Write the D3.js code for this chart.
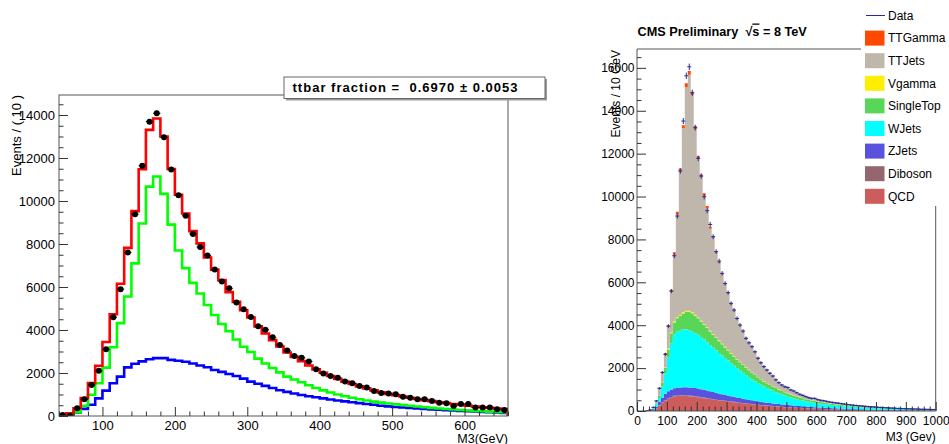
<!DOCTYPE html>
<html>
<head>
<meta charset="utf-8">
<script src="https://cdn.jsdelivr.net/npm/d3@7"></script>
<style>
  body { margin: 0; background: #fff; }
  svg { display: block; font-family: "Liberation Sans", Arial, Helvetica, sans-serif; }
</style>
</head>
<body>
<svg id="chart" width="949" height="444"></svg>
<script>
// ---------- left: ttbar template fit, M3 in 10 GeV bins (low edges) ----------
const fitBinLow = [40, 50, 60, 70, 80, 90, 100, 110, 120, 130, 140, 150, 160, 170, 180, 190, 200, 210, 220, 230,
  240, 250, 260, 270, 280, 290, 300, 310, 320, 330, 340, 350, 360, 370, 380, 390, 400, 410, 420, 430,
  440, 450, 460, 470, 480, 490, 500, 510, 520, 530, 540, 550, 560, 570, 580, 590, 600, 610, 620, 630, 640, 650];
const fitData = [50, 10, 360, 780, 1440, 2100, 3100, 4590, 5900, 7610,
  9380, 11640, 13690, 14080, 12960, 11460, 10270, 9310, 8470, 7860,
  7470, 6810, 6260, 5940, 5280, 4960, 4600, 4170, 4010, 3660,
  3300, 3050, 2790, 2710, 2540, 2180, 1980, 1860, 1780, 1600,
  1520, 1400, 1320, 1160, 1070, 1050, 1010, 900, 850, 775,
  775, 700, 620, 590, 465, 560, 560, 390, 390, 390, 310, 280];
const fitTotal = [50, 120, 360, 830, 1530, 2340, 3440, 4730, 6150, 7820,
  9530, 11480, 13310, 13840, 13000, 11490, 10290, 9420, 8600, 8030,
  7370, 6810, 6320, 5760, 5310, 4920, 4580, 4170, 3840, 3530,
  3230, 2950, 2750, 2550, 2350, 2170, 2010, 1860, 1720, 1600,
  1490, 1380, 1280, 1190, 1100, 1030, 970, 910, 850, 790,
  740, 690, 640, 600, 560, 520, 480, 440, 410, 380, 350, 320];
const fitTtbar = [20, 50, 180, 480, 990, 1520, 2250, 3200, 4320, 5560,
  7100, 8950, 10670, 11140, 10330, 8900, 7700, 6880, 6190, 5700,
  5160, 4700, 4280, 3940, 3560, 3220, 2980, 2670, 2440, 2230,
  2030, 1830, 1700, 1570, 1430, 1300, 1190, 1090, 1000, 920,
  850, 780, 720, 670, 620, 580, 550, 515, 480, 440,
  410, 380, 350, 325, 300, 280, 255, 230, 220, 205, 190, 175];
const fitBkg = [20, 60, 170, 330, 520, 820, 1180, 1520, 1830, 2260,
  2430, 2540, 2640, 2690, 2690, 2610, 2570, 2520, 2440, 2350,
  2270, 2140, 2050, 1950, 1860, 1740, 1600, 1500, 1400, 1300,
  1200, 1120, 1050, 980, 920, 870, 820, 770, 720, 680,
  640, 600, 560, 520, 480, 450, 420, 395, 370, 350,
  330, 310, 290, 275, 260, 240, 225, 210, 190, 175, 160, 145];
const fitXTicks = [100, 200, 300, 400, 500, 600];
const fitYTicks = [0, 2000, 4000, 6000, 8000, 10000, 12000, 14000];
const fitLabel = 'ttbar fraction =  0.6970 \u00b1 0.0053';

// ---------- right: stacked MC vs data, M3 in 10 GeV bins (low edges) ----------
const stackBinLow = [0, 10, 20, 30, 40, 50, 60, 70, 80, 90, 100, 110, 120, 130, 140, 150, 160, 170, 180, 190,
  200, 210, 220, 230, 240, 250, 260, 270, 280, 290, 300, 310, 320, 330, 340, 350, 360, 370, 380, 390,
  400, 410, 420, 430, 440, 450, 460, 470, 480, 490, 500, 510, 520, 530, 540, 550, 560, 570, 580, 590,
  600, 610, 620, 630, 640, 650, 660, 670, 680, 690, 700, 710, 720, 730, 740, 750, 760, 770, 780, 790,
  800, 810, 820, 830, 840, 850, 860, 870, 880, 890, 900, 910, 920, 930, 940, 950, 960, 970, 980, 990];
const qcd = [0, 0, 0, 0, 10, 40, 120, 260, 380, 480,
  560, 620, 680, 700, 710, 710, 700, 690, 680, 660,
  640, 620, 600, 580, 555, 530, 510, 495, 480, 465,
  450, 430, 410, 390, 375, 360, 345, 330, 315, 295,
  280, 268, 256, 244, 232, 220, 210, 200, 190, 180,
  170, 162, 154, 146, 139, 132, 125, 118, 112, 106,
  100, 95, 90, 85, 80, 76, 72, 68, 64, 60,
  57, 54, 51, 48, 45, 42, 40, 38, 36, 34,
  32, 30, 28, 26, 25, 24, 23, 22, 21, 20,
  19, 18, 17, 16, 15, 15, 14, 14, 13, 13];
const diboson = [0, 0, 0, 0, 0, 3, 8, 15, 20, 25,
  28, 30, 30, 30, 30, 30, 30, 29, 28, 27,
  26, 25, 24, 23, 22, 21, 20, 19, 18, 18,
  17, 16, 16, 15, 15, 14, 14, 13, 13, 12,
  12, 11, 11, 10, 10, 10, 9, 9, 9, 8,
  8, 8, 7, 7, 7, 7, 6, 6, 6, 6,
  5, 5, 5, 5, 5, 5, 5, 4, 4, 4,
  4, 4, 4, 4, 4, 3, 3, 3, 3, 3,
  3, 3, 3, 3, 3, 3, 2, 2, 2, 2,
  2, 2, 2, 2, 2, 2, 2, 2, 2, 2];
const zjets = [0, 0, 0, 5, 15, 37, 72, 155, 220, 295,
  332, 350, 350, 360, 360, 370, 380, 381, 382, 383,
  384, 375, 366, 352, 343, 334, 320, 301, 287, 267,
  253, 244, 234, 225, 211, 201, 191, 182, 173, 168,
  158, 151, 143, 136, 130, 125, 119, 113, 107, 103,
  98, 94, 90, 86, 82, 78, 75, 72, 69, 66,
  63, 60, 57, 54, 52, 50, 48, 46, 44, 42,
  40, 38, 36, 35, 33, 32, 30, 29, 28, 27,
  26, 25, 24, 23, 22, 21, 20, 19, 18, 17,
  16, 16, 15, 15, 14, 14, 13, 13, 12, 12];
const wjets = [0, 0, 0, 3, 15, 50, 130, 180, 520, 960,
  1590, 2150, 2520, 2610, 2640, 2700, 2690, 2660, 2610, 2550,
  2510, 2430, 2340, 2255, 2160, 2065, 1980, 1895, 1805, 1720,
  1630, 1540, 1450, 1370, 1290, 1205, 1130, 1055, 980, 915,
  850, 790, 730, 680, 628, 585, 542, 498, 464, 428,
  392, 364, 336, 312, 287, 268, 246, 230, 214, 202,
  188, 178, 168, 160, 152, 144, 137, 130, 123, 117,
  111, 106, 101, 96, 91, 87, 83, 79, 75, 71,
  68, 65, 62, 59, 56, 54, 51, 49, 47, 45,
  43, 41, 39, 37, 36, 34, 33, 31, 30, 29];
const singletop = [0, 0, 0, 0, 2, 10, 30, 90, 160, 240,
  360, 470, 550, 620, 690, 740, 820, 870, 860, 820,
  760, 720, 690, 660, 630, 600, 570, 545, 520, 495,
  470, 445, 420, 400, 380, 360, 340, 320, 300, 285,
  270, 255, 240, 225, 212, 200, 188, 176, 165, 155,
  145, 137, 129, 121, 114, 107, 101, 95, 90, 85,
  80, 76, 72, 68, 64, 61, 58, 55, 52, 49,
  46, 44, 42, 40, 38, 36, 34, 32, 30, 29,
  27, 26, 25, 23, 22, 21, 20, 19, 18, 17,
  16, 15, 15, 14, 13, 13, 12, 12, 11, 11];
const vgamma = [0, 0, 0, 0, 1, 2, 5, 10, 20, 30,
  40, 45, 50, 50, 50, 50, 50, 50, 48, 46,
  44, 42, 40, 38, 36, 35, 33, 32, 30, 29,
  28, 27, 26, 25, 24, 23, 22, 21, 20, 19,
  18, 17, 16, 16, 15, 14, 14, 13, 13, 12,
  12, 11, 11, 10, 10, 10, 9, 9, 9, 8,
  8, 8, 7, 7, 7, 7, 6, 6, 6, 6,
  5, 5, 5, 5, 5, 5, 4, 4, 4, 4,
  4, 4, 4, 4, 3, 3, 3, 3, 3, 3,
  3, 3, 3, 2, 2, 2, 2, 2, 2, 2];
const ttjets = [0, 0, 0, 2, 7, 35, 105, 345, 465, 620,
  1020, 1895, 3120, 4810, 6700, 8580, 10430, 11000, 10130, 8660,
  7400, 6700, 5980, 5550, 4750, 4500, 3960, 3610, 3220, 2910,
  2630, 2280, 2120, 1860, 1690, 1540, 1350, 1250, 1190, 1070,
  900, 770, 690, 620, 550, 500, 410, 340, 290, 270,
  250, 230, 210, 185, 160, 140, 125, 115, 108, 102,
  97, 89, 87, 78, 77, 74, 71, 68, 64, 61,
  60, 55, 52, 50, 47, 45, 44, 41, 39, 37,
  36, 34, 32, 31, 30, 28, 27, 25, 24, 23,
  22, 21, 20, 19, 18, 17, 16, 15, 15, 14];
const ttgamma = [0, 0, 0, 0, 0, 3, 10, 25, 35, 50,
  70, 90, 100, 110, 130, 150, 180, 170, 150, 140,
  130, 120, 110, 100, 90, 80, 70, 62, 56, 50,
  45, 40, 36, 32, 28, 25, 22, 20, 18, 16,
  15, 14, 13, 12, 11, 10, 9, 9, 8, 8,
  7, 7, 6, 6, 6, 5, 5, 5, 4, 4,
  4, 4, 4, 3, 3, 3, 3, 3, 3, 3,
  2, 2, 2, 2, 2, 2, 2, 2, 2, 2,
  1, 1, 1, 1, 1, 1, 1, 1, 1, 1,
  1, 1, 1, 1, 1, 1, 1, 1, 1, 1];
const stackData = [0, 0, 0, 10, 50, 170, 470, 1060, 1800, 2640,
  3960, 5590, 7240, 9090, 11190, 13520, 15630, 16050, 14840, 13210,
  11780, 10960, 9990, 9340, 8700, 8130, 7430, 6990, 6420, 5950,
  5520, 5020, 4710, 4320, 4010, 3730, 3390, 3180, 3000, 2760,
  2460, 2250, 2070, 1910, 1760, 1630, 1450, 1320, 1210, 1130,
  1090, 980, 930, 850, 780, 730, 670, 620, 590, 590,
  530, 500, 480, 450, 420, 400, 380, 360, 340, 320,
  300, 285, 270, 255, 240, 230, 215, 205, 195, 185,
  175, 165, 160, 150, 140, 135, 125, 120, 115, 110,
  105, 100, 95, 90, 85, 80, 78, 75, 70, 68];
const stackKeys = ['QCD', 'Diboson', 'ZJets', 'WJets', 'SingleTop', 'Vgamma', 'TTJets', 'TTGamma'];
const stackSeries = [qcd, diboson, zjets, wjets, singletop, vgamma, ttjets, ttgamma];
const legendLabels = ['Data', 'TTGamma', 'TTJets', 'Vgamma', 'SingleTop', 'WJets', 'ZJets', 'Diboson', 'QCD'];
const stackXTicks = [0, 100, 200, 300, 400, 500, 600, 700, 800, 900, 1000];
const stackYTicks = [0, 2000, 4000, 6000, 8000, 10000, 12000, 14000, 16000];

const colors = {
  QCD: '#cd5c5c', Diboson: '#946670', ZJets: '#5a52dc', WJets: '#00ffff',
  SingleTop: '#58d658', Vgamma: '#ffee00', TTJets: '#bfb7ac', TTGamma: '#ff4800',
  Data: '#2a2a98'
};
const axisColor = '#333';

const svg = d3.select('#chart');
const defs = svg.append('defs');

function styleText(sel, size) {
  sel.selectAll('text').attr('font-size', size)
    .attr('font-family', '"Liberation Sans", Arial, Helvetica, sans-serif').attr('fill', '#000');
}

// ROOT-like axes: inward ticks, long majors and short minors
function drawAxes(g, x, y, o) {
  const bx = g.append('g').attr('transform', `translate(0,${o.bottom})`).style('color', axisColor);
  bx.append('g').call(d3.axisBottom(x).tickValues(o.xMinor).tickSize(-4.5).tickFormat(''));
  bx.append('g').call(d3.axisBottom(x).tickValues(o.xMajor).tickSize(-9).tickPadding(o.xPad).tickFormat(d3.format('d')));
  const ly = g.append('g').attr('transform', `translate(${o.left},0)`).style('color', axisColor);
  ly.append('g').call(d3.axisLeft(y).tickValues(o.yMinor).tickSize(-4.5).tickFormat(''));
  ly.append('g').call(d3.axisLeft(y).tickValues(o.yMajor).tickSize(-9).tickPadding(o.yPad).tickFormat(d3.format('d')));
  g.selectAll('.domain').remove();
  styleText(g, o.font);
}

// ================= left panel =================
const L = { left: 59, right: 508, top: 95, bottom: 416 };
const xL = d3.scaleLinear().domain([40, 660]).range([L.left, L.right]);
const yL = d3.scaleLinear().domain([0, 14930]).range([L.bottom, L.top]);
const binW = 10;

defs.append('clipPath').attr('id', 'clipL').append('rect')
  .attr('x', L.left).attr('y', L.top).attr('width', L.right - L.left).attr('height', L.bottom - L.top);

const left = svg.append('g');
const plotL = left.append('g').attr('clip-path', 'url(#clipL)');

function stepPts(lows, vals, hi) {
  const pts = [[lows[0], 0]];
  lows.forEach((e, i) => pts.push([e, vals[i]]));
  pts.push([hi, vals[vals.length - 1]], [hi, 0]);
  return pts;
}
const stepL = d3.line().x(d => xL(d[0])).y(d => yL(d[1])).curve(d3.curveStepAfter);
[[fitBkg, '#0000ff'], [fitTtbar, '#00ff00'], [fitTotal, '#ff0000']].forEach(([vals, c]) => {
  plotL.append('path')
    .attr('d', stepL(stepPts(fitBinLow, vals, 660)))
    .attr('fill', 'none').attr('stroke', c).attr('stroke-width', 2.6).attr('stroke-linejoin', 'miter');
});

const pts = plotL.append('g').selectAll('g').data(fitData).join('g')
  .attr('transform', (d, i) => `translate(${xL(fitBinLow[i] + binW / 2)},${yL(d)})`);
pts.append('line').attr('x1', (d, i) => xL(fitBinLow[i]) - xL(fitBinLow[i] + binW / 2))
  .attr('x2', (d, i) => xL(fitBinLow[i] + binW) - xL(fitBinLow[i] + binW / 2))
  .attr('stroke', '#000').attr('stroke-width', 1);
pts.append('line').attr('y1', d => yL(d + Math.sqrt(d)) - yL(d)).attr('y2', d => yL(Math.max(0, d - Math.sqrt(d))) - yL(d))
  .attr('stroke', '#000').attr('stroke-width', 1);
pts.append('circle').attr('r', 3).attr('fill', '#000');

left.append('rect').attr('x', L.left).attr('y', L.top)
  .attr('width', L.right - L.left).attr('height', L.bottom - L.top)
  .attr('fill', 'none').attr('stroke', '#555').attr('stroke-width', 1);

drawAxes(left.append('g'), xL, yL, {
  bottom: L.bottom, left: L.left, font: 13, xPad: 5, yPad: 4,
  xMajor: fitXTicks, xMinor: d3.range(40, 661, 20).filter(v => v % 100),
  yMajor: fitYTicks, yMinor: d3.range(0, 14501, 500).filter(v => v % 2000)
});

left.append('text').attr('transform', `translate(20.5,${L.top}) rotate(-90)`)
  .attr('text-anchor', 'end').attr('font-size', 13).text('Events / ( 10 )');
left.append('text').attr('x', L.right).attr('y', 442.5).attr('text-anchor', 'end')
  .attr('font-size', 12.5).text('M3(GeV)');

// parameter box
const box = left.append('g');
box.append('rect').attr('x', 286).attr('y', 79).attr('width', 261).attr('height', 21.5).attr('fill', '#999');
box.append('rect').attr('x', 284).attr('y', 77).attr('width', 261).attr('height', 21.5)
  .attr('fill', '#fff').attr('stroke', '#666').attr('stroke-width', 1);
box.append('text').attr('x', 292.5).attr('y', 91.5).attr('font-size', 13).attr('font-weight', 'bold')
  .attr('textLength', 225).attr('lengthAdjust', 'spacing').style('white-space', 'pre')
  .text(fitLabel);

// ================= right panel =================
const R = { left: 637, right: 935.7, top: 49, bottom: 411 };
const xR = d3.scaleLinear().domain([0, 1000]).range([R.left, R.right]);
const yR = d3.scaleLinear().domain([0, 16880]).range([R.bottom, R.top]);

defs.append('clipPath').attr('id', 'clipR').append('rect')
  .attr('x', R.left).attr('y', R.top).attr('width', R.right - R.left).attr('height', R.bottom - R.top);

const right = svg.append('g');
const plotR = right.append('g').attr('clip-path', 'url(#clipR)');

const rows = stackBinLow.map((e, i) => {
  const r = { lo: e };
  stackKeys.forEach((k, j) => r[k] = stackSeries[j][i]);
  return r;
});
const layers = d3.stack().keys(stackKeys)(rows);
const areaR = d3.area().x(d => xR(d.x)).y0(d => yR(d.y0)).y1(d => yR(d.y1)).curve(d3.curveStepAfter);
layers.forEach(layer => {
  const p = layer.map((s, i) => ({ x: rows[i].lo, y0: s[0], y1: s[1] }));
  const last = p[p.length - 1];
  p.push({ x: 1000, y0: last.y0, y1: last.y1 });
  plotR.append('path').attr('d', areaR(p)).attr('fill', colors[layer.key]).attr('stroke', 'none');
});

const crosses = plotR.append('g').attr('stroke', colors.Data).attr('stroke-width', 1)
  .selectAll('g').data(stackData.map((v, i) => ({ v, lo: stackBinLow[i] })).filter(d => d.v > 0)).join('g');
crosses.append('line')
  .attr('x1', d => xR(d.lo + 5) - 2).attr('x2', d => xR(d.lo + 5) + 2)
  .attr('y1', d => yR(d.v)).attr('y2', d => yR(d.v));
crosses.append('line')
  .attr('x1', d => xR(d.lo + 5)).attr('x2', d => xR(d.lo + 5))
  .attr('y1', d => yR(d.v + Math.sqrt(d.v)) - 0.5).attr('y2', d => yR(Math.max(0, d.v - Math.sqrt(d.v))) + 0.5);

right.append('path')
  .attr('d', `M${R.left},${R.top}H${R.right}V${R.bottom}H${R.left}Z`)
  .attr('fill', 'none').attr('stroke', '#555').attr('stroke-width', 1);

drawAxes(right.append('g'), xR, yR, {
  bottom: R.bottom, left: R.left, font: 12, xPad: 5.8, yPad: 2.5,
  xMajor: stackXTicks, xMinor: d3.range(0, 1001, 20).filter(v => v % 100),
  yMajor: stackYTicks, yMinor: d3.range(0, 16501, 500).filter(v => v % 2000)
});

right.append('text').attr('transform', `translate(620,${R.top + 1}) rotate(-90)`)
  .attr('text-anchor', 'end').attr('font-size', 12).text('Events / 10 GeV');
right.append('text').attr('x', R.right).attr('y', 441).attr('text-anchor', 'end')
  .attr('font-size', 12).text('M3 (Gev)');

const title = right.append('text').attr('x', 637.5).attr('y', 35.5)
  .attr('font-size', 12.7).attr('font-weight', 'bold');
title.append('tspan').text('CMS Preliminary  \u221a').style('white-space', 'pre');
title.append('tspan').style('text-decoration', 'overline').text('s');
title.append('tspan').text(' = 8 TeV');

// legend
const leg = right.append('g');
leg.append('rect').attr('x', 861).attr('y', 0).attr('width', 88).attr('height', 206).attr('fill', '#fff');
const entry = leg.selectAll('g').data(legendLabels).join('g')
  .attr('transform', (d, i) => `translate(865,${15.5 + i * 22.6})`);
entry.filter(d => d === 'Data').append('line')
  .attr('x1', 1).attr('x2', 20).attr('stroke', colors.Data).attr('stroke-width', 1);
entry.filter(d => d !== 'Data').append('rect')
  .attr('x', 0).attr('y', -7.5).attr('width', 19.5).attr('height', 15).attr('fill', d => colors[d]);
entry.append('text').attr('x', 23).attr('dy', '0.36em').attr('font-size', 12).text(d => d);
</script>
</body>
</html>
